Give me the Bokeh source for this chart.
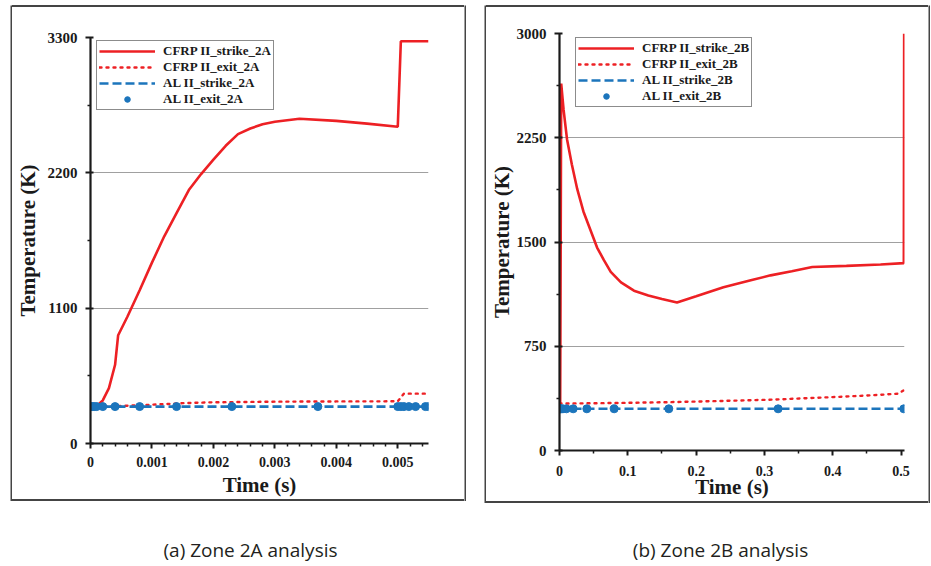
from bokeh.plotting import figure
from bokeh.layouts import row, column
from bokeh.models import (Range1d, FixedTicker, CustomJSTickFormatter, Label, Spacer)
from bokeh.embed import file_html
from bokeh.resources import INLINE
import numpy as np

# ---------------- data: Zone 2A ----------------
t_cfrp_strike_2a = [0, 0.0001, 0.0002, 0.0003, 0.0004, 0.00045, 0.0006, 0.0008, 0.001,
                    0.0012, 0.0014, 0.0016, 0.0018, 0.002, 0.0022, 0.0024, 0.0026, 0.0028,
                    0.003, 0.0034, 0.004, 0.0045, 0.005, 0.00505, 0.0055]
T_cfrp_strike_2a = [300, 305, 350, 450, 640, 880, 1030, 1246, 1470,
                    1684, 1872, 2060, 2190, 2307, 2420, 2515, 2560, 2595,
                    2615, 2640, 2622, 2600, 2575, 3270, 3270]
t_cfrp_exit_2a = [0, 0.0005, 0.001, 0.0015, 0.002, 0.003, 0.004, 0.005, 0.0051, 0.0055]
T_cfrp_exit_2a = [300, 305, 315, 328, 335, 340, 342, 343, 405, 405]
t_al_strike_2a = [0, 0.00003, 0.00006, 0.0001, 0.0002, 0.0004, 0.0008, 0.0014, 0.0023,
                  0.0037, 0.005, 0.00505, 0.0051, 0.00518, 0.00529, 0.00545, 0.0055]
T_al_strike_2a = [300] * 17
t_al_exit_2a = [0, 0.00003, 0.00006, 0.0001, 0.0002, 0.0004, 0.0008, 0.0014, 0.0023,
                0.0037, 0.005, 0.00505, 0.0051, 0.00518, 0.00529, 0.00545, 0.0055]
T_al_exit_2a = [300] * 17

# ---------------- data: Zone 2B ----------------
t_cfrp_strike_2b = [0, 0.001, 0.0025, 0.006, 0.011, 0.018, 0.026, 0.035, 0.045, 0.055,
                    0.065, 0.075, 0.09, 0.109, 0.13, 0.15, 0.172, 0.2, 0.24, 0.28,
                    0.309, 0.34, 0.37, 0.42, 0.47, 0.504, 0.5045]
T_cfrp_strike_2b = [300, 340, 2640, 2450, 2240, 2060, 1880, 1720, 1590, 1460,
                    1370, 1285, 1210, 1150, 1115, 1090, 1065, 1110, 1175, 1225,
                    1260, 1290, 1320, 1328, 1338, 1348, 3000]
t_cfrp_exit_2b = [0, 0.05, 0.1, 0.163, 0.2, 0.25, 0.313, 0.36, 0.41, 0.46, 0.496, 0.504]
T_cfrp_exit_2b = [338, 340, 343, 348, 352, 358, 366, 376, 386, 398, 409, 433]
t_al_strike_2b = [0, 0.0006, 0.00125, 0.0025, 0.005, 0.01, 0.02, 0.04, 0.08, 0.16, 0.32, 0.504]
T_al_strike_2b = [300] * 12
t_al_exit_2b = [0, 0.0006, 0.00125, 0.0025, 0.005, 0.01, 0.02, 0.04, 0.08, 0.16, 0.32, 0.504]
T_al_exit_2b = [300] * 12

# axis ticks
x_ticks_2a = [0, 0.001, 0.002, 0.003, 0.004, 0.005]
y_ticks_2a = [0, 1100, 2200, 3300]
x_ticks_2b = [0, 0.1, 0.2, 0.3, 0.4, 0.5]
y_ticks_2b = [0, 750, 1500, 2250, 3000]

labels_2a = ["CFRP II_strike_2A", "CFRP II_exit_2A", "AL II_strike_2A", "AL II_exit_2A"]
labels_2b = ["CFRP II_strike_2B", "CFRP II_exit_2B", "AL II_strike_2B", "AL II_exit_2B"]
captions = ["(a) Zone 2A analysis", "(b) Zone 2B analysis"]

RED = "#ED2024"
BLUE = "#1C75BC"
SERIF = "Liberation Serif"
BOX = "#444444"


def make_panel(width, height, xr, yr, xt, xminor, yt, yminor, fmt_digits, borders,
               series, labels, legend_loc, std):
    p = figure(width=width, height=height, x_range=Range1d(*xr), y_range=Range1d(*yr),
               output_backend="svg", toolbar_location=None, title=None,
               min_border_left=borders[0], min_border_right=borders[1],
               min_border_top=borders[2], min_border_bottom=borders[3])
    p.outline_line_color = None
    p.background_fill_color = "white"
    p.border_fill_color = "white"

    (ts, Ts), (te, Te), (tas, Tas), (tae, Tae) = series
    p.line(ts, Ts, line_color=RED, line_width=2.6, legend_label=labels[0])
    p.line(te, Te, line_color=RED, line_width=2.4, line_dash="2 5", line_cap="round",
           legend_label=labels[1])
    p.line(tas, Tas, line_color=BLUE, line_width=2.6, line_dash="9 4", legend_label=labels[2])
    p.scatter(tae, Tae, size=8, fill_color=BLUE, line_color=BLUE, legend_label=labels[3])

    p.xaxis.ticker = FixedTicker(ticks=xt, minor_ticks=xminor)
    p.yaxis.ticker = FixedTicker(ticks=yt, minor_ticks=yminor)
    p.xaxis.formatter = CustomJSTickFormatter(
        code="return tick == 0 ? '0' : tick.toFixed(%d);" % fmt_digits)
    p.yaxis.formatter = CustomJSTickFormatter(code="return tick.toFixed(0);")
    p.xgrid.visible = False
    p.ygrid.grid_line_color = "#a0a0a0"
    p.ygrid.grid_line_width = 1.2

    for ax in (p.xaxis[0], p.yaxis[0]):
        ax.axis_line_width = 2.2
        ax.axis_line_color = "#1a1a1a"
        ax.major_tick_line_width = 2
        ax.minor_tick_line_width = 1.5
        ax.major_tick_line_color = "#1a1a1a"
        ax.minor_tick_line_color = "#1a1a1a"
        ax.major_tick_out = 5
        ax.major_tick_in = 0
        ax.minor_tick_out = 3
        ax.minor_tick_in = 0
        ax.major_label_text_font = SERIF
        ax.major_label_text_font_style = "bold"
        ax.major_label_text_color = "#1a1a1a"
        ax.axis_label_text_font = SERIF
        ax.axis_label_text_font_style = "bold"
        ax.axis_label_text_font_size = "21px"
        ax.axis_label_text_color = "#1a1a1a"
    p.xaxis.major_label_text_font_size = "14px"
    p.yaxis.major_label_text_font_size = "15px"
    p.yaxis.major_tick_in = 3
    p.xaxis.major_label_standoff = std[0]
    p.xaxis.axis_label_standoff = std[1]
    p.yaxis.major_label_standoff = 8
    p.yaxis.axis_label_standoff = std[2]
    p.xaxis.axis_label = "Time (s)"
    p.yaxis.axis_label = "Temperature (K)"

    lg = p.legend[0]
    lg.location = legend_loc
    lg.border_line_color = "#1a1a1a"
    lg.border_line_width = 1.5
    lg.background_fill_color = "white"
    lg.background_fill_alpha = 1.0
    lg.label_text_font = SERIF
    lg.label_text_font_style = "bold"
    lg.label_text_font_size = "13px"
    lg.label_text_color = "#1a1a1a"
    lg.glyph_width = 56
    lg.glyph_height = 14
    lg.label_height = 14
    lg.label_standoff = 8
    lg.spacing = 0
    lg.padding = 2
    lg.margin = 0
    return p


def vbar_fig(w, h):
    f = figure(width=w, height=h, x_range=Range1d(0, 1), y_range=Range1d(0, 1),
               x_axis_type=None, y_axis_type=None, toolbar_location=None,
               output_backend="svg", title=None, min_border=0)
    f.outline_line_color = None
    f.background_fill_color = BOX
    f.border_fill_color = BOX
    return f


def hline(w, h):
    return Spacer(width=w, height=h, styles={"background-color": BOX})


def boxed(p, w, h):
    return row(vbar_fig(2, h + 4), column(hline(w, 2), p, hline(w, 2)), vbar_fig(2, h + 4))


minor_x_2a = [round(v, 6) for v in np.arange(0, 0.0055, 0.0002) if round(v / 0.001, 6) % 1 != 0]
minor_y_2a = [550, 1650, 2750]
minor_x_2b = [0.05, 0.15, 0.25, 0.35, 0.45]
minor_y_2b = [375, 1125, 1875, 2625]

p1 = make_panel(452, 492, (0, 0.0055), (0, 3300), x_ticks_2a, minor_x_2a, y_ticks_2a, minor_y_2a,
                3, (75, 36, 30, 53),
                [(t_cfrp_strike_2a, T_cfrp_strike_2a), (t_cfrp_exit_2a, T_cfrp_exit_2a),
                 (t_al_strike_2a, T_al_strike_2a), (t_al_exit_2a, T_al_exit_2a)],
                labels_2a, (6, 333), (8, 3, 5))
p2 = make_panel(442, 494, (0, 0.505), (0, 3000), x_ticks_2b, minor_x_2b, y_ticks_2b, minor_y_2b,
                1, (73, 24, 26, 48),
                [(t_cfrp_strike_2b, T_cfrp_strike_2b), (t_cfrp_exit_2b, T_cfrp_exit_2b),
                 (t_al_strike_2b, T_al_strike_2b), (t_al_exit_2b, T_al_exit_2b)],
                labels_2b, (16, 343), (10, -4, 0))

cap = figure(width=931, height=61, x_range=Range1d(0, 931), y_range=Range1d(0, 61),
             output_backend="svg", toolbar_location=None, title=None,
             x_axis_type=None, y_axis_type=None, min_border=0)
cap.outline_line_color = None
for txt, cx in zip(captions, [250, 720]):
    cap.add_layout(Label(x=cx, y=15, text=txt, text_align="center", text_baseline="middle",
                         text_font="Open Sans", text_font_size="19px", text_color="#231f20"))

layout = column(
    Spacer(width=931, height=5),
    row(Spacer(width=10, height=10), boxed(p1, 452, 492), Spacer(width=18, height=10),
        boxed(p2, 442, 494)),
    cap,
)
open("out.html", "w").write(file_html(layout, INLINE))
